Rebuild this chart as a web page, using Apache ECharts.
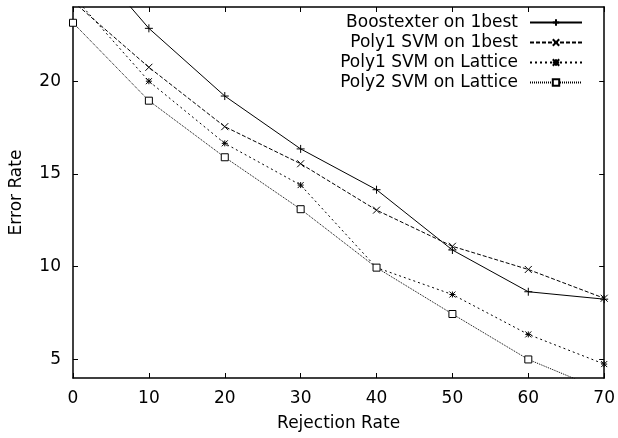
<!DOCTYPE html>
<html>
<head>
<meta charset="utf-8">
<script src="https://cdn.jsdelivr.net/npm/echarts@6/dist/echarts.min.js"></script>
</head>
<body style="margin:0;background:#fff">
<div id="chart" style="width:618px;height:438px;"></div>
<script>
var rejection = [0, 10, 20, 30, 40, 50, 60, 70];
var boostexter1best = [27.6, 22.85, 19.2, 16.35, 14.15, 10.9, 8.65, 8.25];
var poly1Svm1best = [24.3, 20.75, 17.55, 15.55, 13.05, 11.1, 9.85, 8.3];
var poly1SvmLattice = [24.6, 20.0, 16.65, 14.4, 9.95, 8.5, 6.35, 4.75];
var poly2SvmLattice = [23.15, 18.95, 15.9, 13.1, 9.95, 7.45, 5.0, 3.3];
var yTicks = [5, 10, 15, 20];
var names = ['Boostexter on 1best', 'Poly1 SVM on 1best', 'Poly1 SVM on Lattice', 'Poly2 SVM on Lattice'];

var font = 'DejaVu Sans';
var fs = 17;
var chart = echarts.init(document.getElementById('chart'));

function pairs(ys) {
    return rejection.map(function (x, i) { return [x, ys[i]]; });
}

function mk(name, ys, symbol, size, dash) {
    return {
        name: name,
        type: 'line',
        data: pairs(ys),
        symbol: symbol,
        symbolSize: size,
        clip: true,
        animation: false,
        lineStyle: {color: '#000', width: 1, type: dash},
        itemStyle: {color: '#fff', borderColor: '#000', borderWidth: 1}
    };
}

var axisCommon = {
    type: 'value',
    axisLine: {show: true, onZero: false, lineStyle: {color: '#000', width: 1.5}},
    axisTick: {show: true, inside: true, length: 5, lineStyle: {color: '#000'}},
    splitLine: {show: false}
};

chart.setOption({
    backgroundColor: '#fff',
    grid: {left: 73, right: 11, top: 7, bottom: 60},
    legend: {
        orient: 'vertical',
        right: 30,
        top: 9,
        align: 'right',
        itemWidth: 52,
        itemHeight: 8,
        itemGap: 3,
        textStyle: {fontFamily: font, fontSize: fs, color: '#000', padding: [0, 7, 0, 0]},
        data: names
    },
    xAxis: [
        Object.assign({}, axisCommon, {
            min: 0, max: 70, interval: 10,
            name: 'Rejection Rate', nameLocation: 'middle', nameGap: 37,
            nameTextStyle: {fontFamily: font, fontSize: fs, color: '#000'},
            axisLabel: {fontFamily: font, fontSize: fs, color: '#000', margin: 12}
        }),
        Object.assign({}, axisCommon, {
            position: 'top', min: 0, max: 70, interval: 10,
            axisLabel: {show: false}
        })
    ],
    yAxis: [
        Object.assign({}, axisCommon, {
            min: 4, max: 24,
            axisTick: {show: true, inside: true, length: 5, lineStyle: {color: '#000'}, customValues: yTicks},
            name: 'Error Rate', nameLocation: 'middle', nameGap: 48,
            nameTextStyle: {fontFamily: font, fontSize: fs, color: '#000'},
            axisLabel: {fontFamily: font, fontSize: fs, color: '#000', margin: 12, customValues: yTicks}
        }),
        Object.assign({}, axisCommon, {
            position: 'right', min: 4, max: 24,
            axisTick: {show: true, inside: true, length: 5, lineStyle: {color: '#000'}, customValues: yTicks},
            axisLabel: {show: false}
        })
    ],
    series: [
        mk(names[0], boostexter1best, 'path://M0,4.5H9M4.5,0V9', 8, 'solid'),
        mk(names[1], poly1Svm1best, 'path://M0,0L9,9M9,0L0,9', 7, [4, 2]),
        mk(names[2], poly1SvmLattice, 'path://M0,0L9,9M9,0L0,9M4.5,0V9M0,4.5H9', 6, [2, 3]),
        mk(names[3], poly2SvmLattice, 'rect', 7, [1, 1])
    ]
});
</script>
</body>
</html>
